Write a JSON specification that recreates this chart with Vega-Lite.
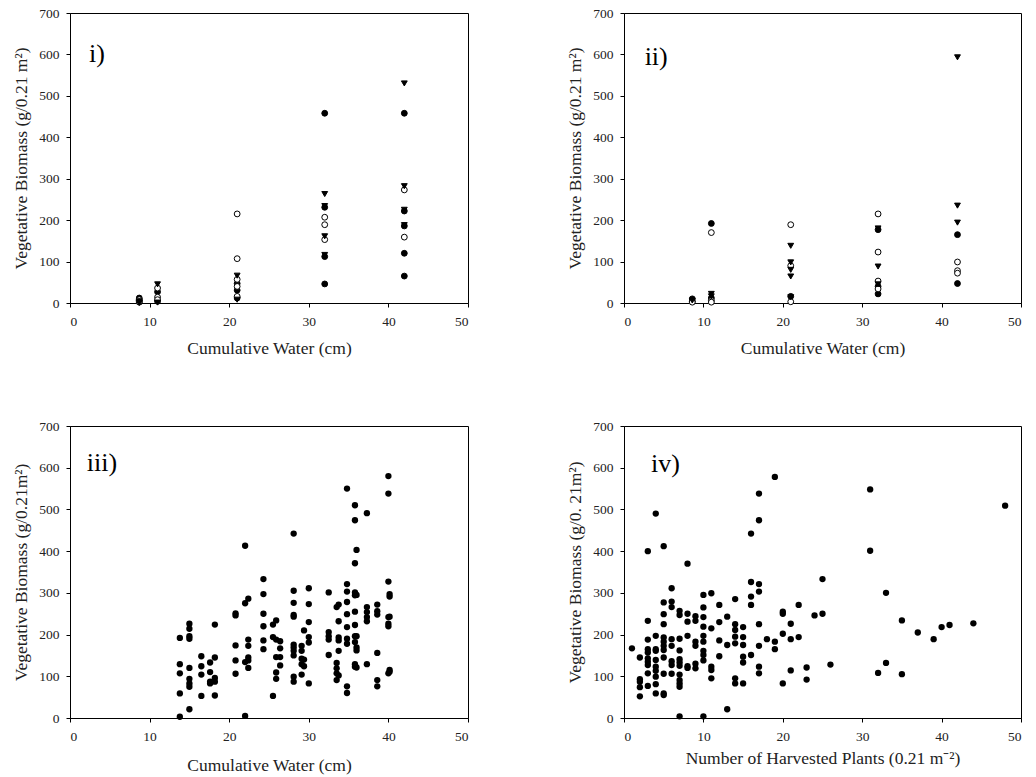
{
  "$schema": "https://vega.github.io/schema/vega-lite/v6.json",
  "padding": {"left": 12, "top": 5, "right": 0, "bottom": 0},
  "background": "white",
  "config": {
    "font": "Liberation Serif",
    "view": {"stroke": "black", "strokeWidth": 1},
    "axis": {
      "grid": false,
      "domainColor": "black",
      "tickColor": "black",
      "tickSize": 4,
      "labelFont": "Liberation Serif",
      "labelFontSize": 13.5,
      "labelColor": "#222",
      "labelPadding": 7,
      "titleFont": "Liberation Serif",
      "titleFontSize": 17.5,
      "titleFontWeight": "normal",
      "titleColor": "#222"
    },
    "axisX": {"titlePadding": 12},
    "axisY": {"titlePadding": 8}
  },
  "datasets": {
    "p1": [
      {"water": 8.7, "biomass": 12, "type": "f"}, {"water": 8.7, "biomass": 6, "type": "f"}, {"water": 8.7, "biomass": 2, "type": "f"},
      {"water": 8.7, "biomass": 8, "type": "o"}, {"water": 8.7, "biomass": 3, "type": "o"},
      {"water": 8.7, "biomass": 4, "type": "t"}, {"water": 8.7, "biomass": 0, "type": "t"},
      {"water": 11, "biomass": 27, "type": "f"}, {"water": 11, "biomass": 4, "type": "f"},
      {"water": 11, "biomass": 36, "type": "o"}, {"water": 11, "biomass": 14, "type": "o"}, {"water": 11, "biomass": 8, "type": "o"},
      {"water": 11, "biomass": 45, "type": "t"}, {"water": 11, "biomass": 1, "type": "t"},
      {"water": 21, "biomass": 47, "type": "f"}, {"water": 21, "biomass": 31, "type": "f"}, {"water": 21, "biomass": 12, "type": "f"},
      {"water": 21, "biomass": 215, "type": "o"}, {"water": 21, "biomass": 107, "type": "o"}, {"water": 21, "biomass": 57, "type": "o"}, {"water": 21, "biomass": 40, "type": "o"}, {"water": 21, "biomass": 16, "type": "o"},
      {"water": 21, "biomass": 66, "type": "t"}, {"water": 21, "biomass": 8, "type": "t"},
      {"water": 32, "biomass": 458, "type": "f"}, {"water": 32, "biomass": 231, "type": "f"}, {"water": 32, "biomass": 112, "type": "f"}, {"water": 32, "biomass": 46, "type": "f"},
      {"water": 32, "biomass": 207, "type": "o"}, {"water": 32, "biomass": 189, "type": "o"}, {"water": 32, "biomass": 153, "type": "o"},
      {"water": 32, "biomass": 263, "type": "t"}, {"water": 32, "biomass": 234, "type": "t"}, {"water": 32, "biomass": 161, "type": "t"}, {"water": 32, "biomass": 116, "type": "t"},
      {"water": 42, "biomass": 458, "type": "f"}, {"water": 42, "biomass": 222, "type": "f"}, {"water": 42, "biomass": 186, "type": "f"}, {"water": 42, "biomass": 120, "type": "f"}, {"water": 42, "biomass": 65, "type": "f"},
      {"water": 42, "biomass": 273, "type": "o"}, {"water": 42, "biomass": 159, "type": "o"},
      {"water": 42, "biomass": 530, "type": "t"}, {"water": 42, "biomass": 282, "type": "t"}, {"water": 42, "biomass": 225, "type": "t"}, {"water": 42, "biomass": 188, "type": "t"}
    ],
    "p2": [
      {"water": 8.6, "biomass": 10, "type": "f"}, {"water": 8.6, "biomass": 4, "type": "f"},
      {"water": 8.6, "biomass": 2, "type": "o"},
      {"water": 8.6, "biomass": 6, "type": "t"},
      {"water": 11, "biomass": 192, "type": "f"}, {"water": 11, "biomass": 12, "type": "f"},
      {"water": 11, "biomass": 170, "type": "o"}, {"water": 11, "biomass": 6, "type": "o"}, {"water": 11, "biomass": 2, "type": "o"},
      {"water": 11, "biomass": 22, "type": "t"}, {"water": 11, "biomass": 16, "type": "t"},
      {"water": 21, "biomass": 16, "type": "f"},
      {"water": 21, "biomass": 189, "type": "o"}, {"water": 21, "biomass": 90, "type": "o"}, {"water": 21, "biomass": 3, "type": "o"},
      {"water": 21, "biomass": 138, "type": "t"}, {"water": 21, "biomass": 98, "type": "t"}, {"water": 21, "biomass": 80, "type": "t"}, {"water": 21, "biomass": 64, "type": "t"}, {"water": 21, "biomass": 14, "type": "t"},
      {"water": 32, "biomass": 177, "type": "f"}, {"water": 32, "biomass": 40, "type": "f"}, {"water": 32, "biomass": 22, "type": "f"},
      {"water": 32, "biomass": 215, "type": "o"}, {"water": 32, "biomass": 123, "type": "o"}, {"water": 32, "biomass": 53, "type": "o"}, {"water": 32, "biomass": 34, "type": "o"},
      {"water": 32, "biomass": 180, "type": "t"}, {"water": 32, "biomass": 88, "type": "t"}, {"water": 32, "biomass": 45, "type": "t"},
      {"water": 42, "biomass": 165, "type": "f"}, {"water": 42, "biomass": 47, "type": "f"},
      {"water": 42, "biomass": 99, "type": "o"}, {"water": 42, "biomass": 78, "type": "o"}, {"water": 42, "biomass": 72, "type": "o"},
      {"water": 42, "biomass": 593, "type": "t"}, {"water": 42, "biomass": 235, "type": "t"}, {"water": 42, "biomass": 194, "type": "t"}
    ],
    "p3": [
      {"water": 13.8, "biomass": 192}, {"water": 13.8, "biomass": 129}, {"water": 13.8, "biomass": 107}, {"water": 13.8, "biomass": 59}, {"water": 13.8, "biomass": 3},
      {"water": 15, "biomass": 226}, {"water": 15, "biomass": 214}, {"water": 15, "biomass": 196}, {"water": 15, "biomass": 190}, {"water": 15, "biomass": 120}, {"water": 15, "biomass": 94}, {"water": 15, "biomass": 83}, {"water": 15, "biomass": 75}, {"water": 15, "biomass": 21},
      {"water": 16.5, "biomass": 148}, {"water": 16.5, "biomass": 124}, {"water": 16.5, "biomass": 104}, {"water": 16.5, "biomass": 53},
      {"water": 17.6, "biomass": 133}, {"water": 17.6, "biomass": 110}, {"water": 17.6, "biomass": 87}, {"water": 17.6, "biomass": 83},
      {"water": 18.2, "biomass": 224}, {"water": 18.2, "biomass": 145}, {"water": 18.2, "biomass": 96}, {"water": 18.2, "biomass": 87}, {"water": 18.2, "biomass": 54},
      {"water": 20.8, "biomass": 251}, {"water": 20.8, "biomass": 246}, {"water": 20.8, "biomass": 174}, {"water": 20.8, "biomass": 138}, {"water": 20.8, "biomass": 106},
      {"water": 22.0, "biomass": 413}, {"water": 22.0, "biomass": 275}, {"water": 22.0, "biomass": 134}, {"water": 22.0, "biomass": 5},
      {"water": 22.4, "biomass": 286}, {"water": 22.4, "biomass": 188}, {"water": 22.4, "biomass": 173}, {"water": 22.4, "biomass": 145}, {"water": 22.4, "biomass": 138}, {"water": 22.4, "biomass": 120},
      {"water": 24.3, "biomass": 333}, {"water": 24.3, "biomass": 297}, {"water": 24.3, "biomass": 250}, {"water": 24.3, "biomass": 220}, {"water": 24.3, "biomass": 186}, {"water": 24.3, "biomass": 165},
      {"water": 25.5, "biomass": 224}, {"water": 25.5, "biomass": 194}, {"water": 25.5, "biomass": 53},
      {"water": 25.9, "biomass": 234}, {"water": 25.9, "biomass": 188}, {"water": 25.9, "biomass": 146}, {"water": 25.9, "biomass": 109}, {"water": 25.9, "biomass": 94},
      {"water": 26.4, "biomass": 184}, {"water": 26.4, "biomass": 167}, {"water": 26.4, "biomass": 146}, {"water": 26.4, "biomass": 126},
      {"water": 28.1, "biomass": 442}, {"water": 28.1, "biomass": 305}, {"water": 28.1, "biomass": 276}, {"water": 28.1, "biomass": 247}, {"water": 28.1, "biomass": 243}, {"water": 28.1, "biomass": 176}, {"water": 28.1, "biomass": 169}, {"water": 28.1, "biomass": 161}, {"water": 28.1, "biomass": 150}, {"water": 28.1, "biomass": 99}, {"water": 28.1, "biomass": 87},
      {"water": 29.1, "biomass": 173}, {"water": 29.1, "biomass": 161}, {"water": 29.1, "biomass": 142}, {"water": 29.1, "biomass": 129}, {"water": 29.1, "biomass": 104},
      {"water": 29.4, "biomass": 210}, {"water": 29.4, "biomass": 140}, {"water": 29.4, "biomass": 124},
      {"water": 30.0, "biomass": 311}, {"water": 30.0, "biomass": 273}, {"water": 30.0, "biomass": 230}, {"water": 30.0, "biomass": 194}, {"water": 30.0, "biomass": 181}, {"water": 30.0, "biomass": 83},
      {"water": 32.5, "biomass": 301}, {"water": 32.5, "biomass": 206}, {"water": 32.5, "biomass": 196}, {"water": 32.5, "biomass": 188}, {"water": 32.5, "biomass": 151},
      {"water": 33.5, "biomass": 266}, {"water": 33.5, "biomass": 132}, {"water": 33.5, "biomass": 119}, {"water": 33.5, "biomass": 107}, {"water": 33.5, "biomass": 91},
      {"water": 33.75, "biomass": 272}, {"water": 33.75, "biomass": 232}, {"water": 33.75, "biomass": 193}, {"water": 33.75, "biomass": 186}, {"water": 33.75, "biomass": 161}, {"water": 33.75, "biomass": 102},
      {"water": 34.8, "biomass": 550}, {"water": 34.8, "biomass": 321}, {"water": 34.8, "biomass": 303}, {"water": 34.8, "biomass": 278}, {"water": 34.8, "biomass": 249}, {"water": 34.8, "biomass": 218}, {"water": 34.8, "biomass": 190}, {"water": 34.8, "biomass": 178}, {"water": 34.8, "biomass": 76}, {"water": 34.8, "biomass": 60},
      {"water": 35.8, "biomass": 510}, {"water": 35.8, "biomass": 474}, {"water": 35.8, "biomass": 371}, {"water": 35.8, "biomass": 301}, {"water": 35.8, "biomass": 294}, {"water": 35.8, "biomass": 255}, {"water": 35.8, "biomass": 223}, {"water": 35.8, "biomass": 196}, {"water": 35.8, "biomass": 182}, {"water": 35.8, "biomass": 129}, {"water": 35.8, "biomass": 123},
      {"water": 36.0, "biomass": 403}, {"water": 36.0, "biomass": 295}, {"water": 36.0, "biomass": 196}, {"water": 36.0, "biomass": 169}, {"water": 36.0, "biomass": 162}, {"water": 36.0, "biomass": 121},
      {"water": 37.3, "biomass": 491}, {"water": 37.3, "biomass": 266}, {"water": 37.3, "biomass": 254}, {"water": 37.3, "biomass": 242}, {"water": 37.3, "biomass": 232}, {"water": 37.3, "biomass": 129},
      {"water": 38.6, "biomass": 272}, {"water": 38.6, "biomass": 256}, {"water": 38.6, "biomass": 248}, {"water": 38.6, "biomass": 156}, {"water": 38.6, "biomass": 91}, {"water": 38.6, "biomass": 76},
      {"water": 40.0, "biomass": 580}, {"water": 40.0, "biomass": 538}, {"water": 40.0, "biomass": 327}, {"water": 40.0, "biomass": 242}, {"water": 40.0, "biomass": 226}, {"water": 40.0, "biomass": 220}, {"water": 40.0, "biomass": 107},
      {"water": 40.15, "biomass": 297}, {"water": 40.15, "biomass": 291}, {"water": 40.15, "biomass": 243}, {"water": 40.15, "biomass": 115}, {"water": 40.15, "biomass": 111}
    ],
    "p4": [
      {"plants": 1, "biomass": 167},
      {"plants": 2, "biomass": 145}, {"plants": 2, "biomass": 93}, {"plants": 2, "biomass": 87}, {"plants": 2, "biomass": 74}, {"plants": 2, "biomass": 52},
      {"plants": 3, "biomass": 400}, {"plants": 3, "biomass": 233}, {"plants": 3, "biomass": 188}, {"plants": 3, "biomass": 165}, {"plants": 3, "biomass": 157}, {"plants": 3, "biomass": 143}, {"plants": 3, "biomass": 135}, {"plants": 3, "biomass": 127}, {"plants": 3, "biomass": 107}, {"plants": 3, "biomass": 77},
      {"plants": 4, "biomass": 490}, {"plants": 4, "biomass": 197}, {"plants": 4, "biomass": 165}, {"plants": 4, "biomass": 161}, {"plants": 4, "biomass": 139}, {"plants": 4, "biomass": 123}, {"plants": 4, "biomass": 113}, {"plants": 4, "biomass": 99}, {"plants": 4, "biomass": 81}, {"plants": 4, "biomass": 59},
      {"plants": 5, "biomass": 412}, {"plants": 5, "biomass": 277}, {"plants": 5, "biomass": 249}, {"plants": 5, "biomass": 225}, {"plants": 5, "biomass": 193}, {"plants": 5, "biomass": 183}, {"plants": 5, "biomass": 173}, {"plants": 5, "biomass": 163}, {"plants": 5, "biomass": 145}, {"plants": 5, "biomass": 106}, {"plants": 5, "biomass": 59}, {"plants": 5, "biomass": 55},
      {"plants": 6, "biomass": 311}, {"plants": 6, "biomass": 279}, {"plants": 6, "biomass": 266}, {"plants": 6, "biomass": 189}, {"plants": 6, "biomass": 173}, {"plants": 6, "biomass": 136}, {"plants": 6, "biomass": 127}, {"plants": 6, "biomass": 106},
      {"plants": 7, "biomass": 257}, {"plants": 7, "biomass": 247}, {"plants": 7, "biomass": 190}, {"plants": 7, "biomass": 162}, {"plants": 7, "biomass": 141}, {"plants": 7, "biomass": 133}, {"plants": 7, "biomass": 125}, {"plants": 7, "biomass": 104}, {"plants": 7, "biomass": 91}, {"plants": 7, "biomass": 83}, {"plants": 7, "biomass": 75}, {"plants": 7, "biomass": 4},
      {"plants": 8, "biomass": 370}, {"plants": 8, "biomass": 250}, {"plants": 8, "biomass": 231}, {"plants": 8, "biomass": 197}, {"plants": 8, "biomass": 124}, {"plants": 8, "biomass": 120},
      {"plants": 9, "biomass": 244}, {"plants": 9, "biomass": 233}, {"plants": 9, "biomass": 183}, {"plants": 9, "biomass": 173}, {"plants": 9, "biomass": 130}, {"plants": 9, "biomass": 119},
      {"plants": 10, "biomass": 295}, {"plants": 10, "biomass": 265}, {"plants": 10, "biomass": 242}, {"plants": 10, "biomass": 219}, {"plants": 10, "biomass": 197}, {"plants": 10, "biomass": 183}, {"plants": 10, "biomass": 161}, {"plants": 10, "biomass": 151}, {"plants": 10, "biomass": 138}, {"plants": 10, "biomass": 4},
      {"plants": 11, "biomass": 299}, {"plants": 11, "biomass": 215}, {"plants": 11, "biomass": 123}, {"plants": 11, "biomass": 115}, {"plants": 11, "biomass": 95},
      {"plants": 12, "biomass": 271}, {"plants": 12, "biomass": 230}, {"plants": 12, "biomass": 186}, {"plants": 12, "biomass": 148},
      {"plants": 13, "biomass": 243}, {"plants": 13, "biomass": 175}, {"plants": 13, "biomass": 21},
      {"plants": 14, "biomass": 285}, {"plants": 14, "biomass": 225}, {"plants": 14, "biomass": 211}, {"plants": 14, "biomass": 195}, {"plants": 14, "biomass": 179}, {"plants": 14, "biomass": 95}, {"plants": 14, "biomass": 83},
      {"plants": 15, "biomass": 218}, {"plants": 15, "biomass": 194}, {"plants": 15, "biomass": 175}, {"plants": 15, "biomass": 147}, {"plants": 15, "biomass": 133}, {"plants": 15, "biomass": 83},
      {"plants": 16, "biomass": 442}, {"plants": 16, "biomass": 326}, {"plants": 16, "biomass": 291}, {"plants": 16, "biomass": 271}, {"plants": 16, "biomass": 151},
      {"plants": 17, "biomass": 538}, {"plants": 17, "biomass": 474}, {"plants": 17, "biomass": 321}, {"plants": 17, "biomass": 303}, {"plants": 17, "biomass": 225}, {"plants": 17, "biomass": 173}, {"plants": 17, "biomass": 123}, {"plants": 17, "biomass": 107},
      {"plants": 18, "biomass": 189},
      {"plants": 19, "biomass": 578}, {"plants": 19, "biomass": 183}, {"plants": 19, "biomass": 165},
      {"plants": 20, "biomass": 255}, {"plants": 20, "biomass": 250}, {"plants": 20, "biomass": 202}, {"plants": 20, "biomass": 83},
      {"plants": 21, "biomass": 226}, {"plants": 21, "biomass": 189}, {"plants": 21, "biomass": 114},
      {"plants": 22, "biomass": 271}, {"plants": 22, "biomass": 194},
      {"plants": 23, "biomass": 121}, {"plants": 23, "biomass": 92},
      {"plants": 24, "biomass": 246},
      {"plants": 25, "biomass": 333}, {"plants": 25, "biomass": 250},
      {"plants": 26, "biomass": 128},
      {"plants": 31, "biomass": 548}, {"plants": 31, "biomass": 401},
      {"plants": 32, "biomass": 108},
      {"plants": 33, "biomass": 300}, {"plants": 33, "biomass": 132},
      {"plants": 35, "biomass": 234}, {"plants": 35, "biomass": 105},
      {"plants": 37, "biomass": 205},
      {"plants": 39, "biomass": 189},
      {"plants": 40, "biomass": 218},
      {"plants": 41, "biomass": 223},
      {"plants": 44, "biomass": 227},
      {"plants": 48, "biomass": 509}
    ]
  },
  "columns": 2,
  "spacing": {"row": 123, "column": 156},
  "bounds": "flush",
  "concat": [
    {
      "width": 398,
      "height": 290,
      "layer": [
        {
          "data": {"name": "p1"},
          "mark": {"type": "point", "filled": true, "size": 34, "stroke": "black", "strokeWidth": 1, "opacity": 1},
          "encoding": {
            "x": {"field": "water", "type": "quantitative", "scale": {"domain": [0, 50], "nice": false}, "axis": {"values": [0, 10, 20, 30, 40, 50], "title": "Cumulative Water (cm)"}},
            "y": {"field": "biomass", "type": "quantitative", "scale": {"domain": [0, 700], "nice": false}, "axis": {"values": [0, 100, 200, 300, 400, 500, 600, 700], "title": "Vegetative Biomass (g/0.21 m²)"}},
            "shape": {"field": "type", "type": "nominal", "scale": {"domain": ["f", "o", "t"], "range": ["circle", "circle", "triangle-down"]}, "legend": null},
            "fill": {"field": "type", "type": "nominal", "scale": {"domain": ["f", "o", "t"], "range": ["black", "white", "black"]}, "legend": null}
          }
        },
        {
          "data": {"values": [{}]},
          "mark": {"type": "text", "align": "left", "baseline": "middle", "fontSize": 26, "font": "Liberation Serif", "color": "black"},
          "encoding": {"x": {"datum": 2.4}, "y": {"datum": 600}, "text": {"value": "i)"}}
        }
      ]
    },
    {
      "width": 397,
      "height": 290,
      "layer": [
        {
          "data": {"name": "p2"},
          "mark": {"type": "point", "filled": true, "size": 34, "stroke": "black", "strokeWidth": 1, "opacity": 1},
          "encoding": {
            "x": {"field": "water", "type": "quantitative", "scale": {"domain": [0, 50], "nice": false}, "axis": {"values": [0, 10, 20, 30, 40, 50], "title": "Cumulative Water (cm)"}},
            "y": {"field": "biomass", "type": "quantitative", "scale": {"domain": [0, 700], "nice": false}, "axis": {"values": [0, 100, 200, 300, 400, 500, 600, 700], "title": "Vegetative Biomass (g/0.21 m²)"}},
            "shape": {"field": "type", "type": "nominal", "scale": {"domain": ["f", "o", "t"], "range": ["circle", "circle", "triangle-down"]}, "legend": null},
            "fill": {"field": "type", "type": "nominal", "scale": {"domain": ["f", "o", "t"], "range": ["black", "white", "black"]}, "legend": null}
          }
        },
        {
          "data": {"values": [{}]},
          "mark": {"type": "text", "align": "left", "baseline": "middle", "fontSize": 26, "font": "Liberation Serif", "color": "black"},
          "encoding": {"x": {"datum": 2.6}, "y": {"datum": 595}, "text": {"value": "ii)"}}
        }
      ]
    },
    {
      "width": 398,
      "height": 292,
      "layer": [
        {
          "data": {"name": "p3"},
          "mark": {"type": "point", "filled": true, "size": 40, "color": "black", "opacity": 1},
          "encoding": {
            "x": {"field": "water", "type": "quantitative", "scale": {"domain": [0, 50], "nice": false}, "axis": {"values": [0, 10, 20, 30, 40, 50], "title": "Cumulative Water (cm)", "titlePadding": 14}},
            "y": {"field": "biomass", "type": "quantitative", "scale": {"domain": [0, 700], "nice": false}, "axis": {"values": [0, 100, 200, 300, 400, 500, 600, 700], "title": "Vegetative Biomass (g/0.21m²)"}}
          }
        },
        {
          "data": {"values": [{}]},
          "mark": {"type": "text", "align": "left", "baseline": "middle", "fontSize": 26, "font": "Liberation Serif", "color": "black"},
          "encoding": {"x": {"datum": 2.1}, "y": {"datum": 612}, "text": {"value": "iii)"}}
        }
      ]
    },
    {
      "width": 397,
      "height": 292,
      "layer": [
        {
          "data": {"name": "p4"},
          "mark": {"type": "point", "filled": true, "size": 40, "color": "black", "opacity": 1},
          "encoding": {
            "x": {"field": "plants", "type": "quantitative", "scale": {"domain": [0, 50], "nice": false}, "axis": {"values": [0, 10, 20, 30, 40, 50], "title": "Number of Harvested Plants (0.21 m⁻²)", "titlePadding": 7}},
            "y": {"field": "biomass", "type": "quantitative", "scale": {"domain": [0, 700], "nice": false}, "axis": {"values": [0, 100, 200, 300, 400, 500, 600, 700], "title": "Vegetative Biomass (g/0. 21m²)"}}
          }
        },
        {
          "data": {"values": [{}]},
          "mark": {"type": "text", "align": "left", "baseline": "middle", "fontSize": 26, "font": "Liberation Serif", "color": "black"},
          "encoding": {"x": {"datum": 3.4}, "y": {"datum": 608}, "text": {"value": "iv)"}}
        }
      ]
    }
  ]
}
